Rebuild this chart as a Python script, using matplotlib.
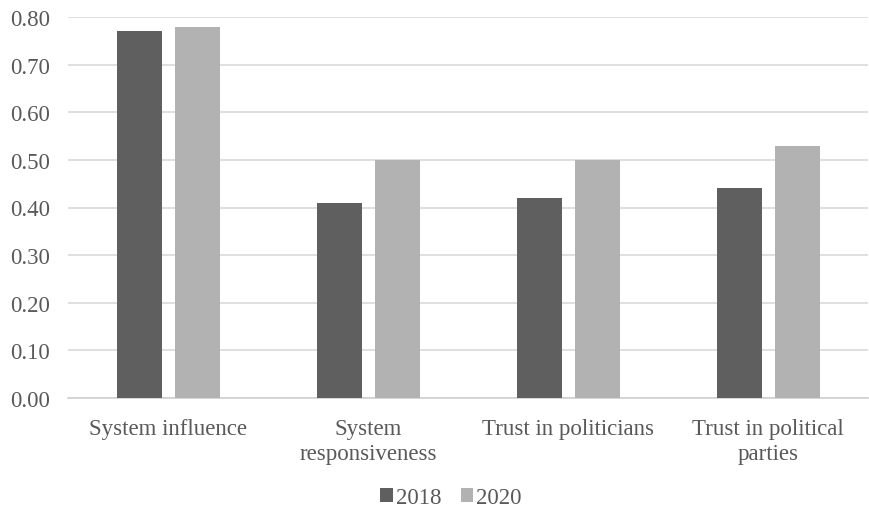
import numpy as np
import matplotlib
matplotlib.use("Agg")
import matplotlib.pyplot as plt

# Political efficacy / trust scores by survey year
categories = ["System influence", "System\nresponsiveness", "Trust in politicians", "Trust in political\nparties"]
years = ["2018", "2020"]
values_2018 = [0.77, 0.41, 0.42, 0.44]
values_2020 = [0.78, 0.50, 0.50, 0.53]
yticks = [0.0, 0.1, 0.2, 0.3, 0.4, 0.5, 0.6, 0.7, 0.8]

plt.rcParams['font.family'] = ['Liberation Serif', 'DejaVu Serif']
text_color = "#595959"
fs = 16.5

fig = plt.figure(figsize=(8.69, 5.10), dpi=100)
ax = fig.add_axes([68 / 869, 1 - 399 / 510, 800 / 869, 381 / 510])

x = np.arange(len(categories))
width = 0.225
ax.bar(x - 0.145, values_2018, width, color="#5f5f5f", label=years[0], zorder=3)
ax.bar(x + 0.145, values_2020, width, color="#b2b2b2", label=years[1], zorder=3)

ax.set_xlim(-0.5, len(categories) - 0.5)
ax.set_ylim(0, 0.8)
ax.set_yticks(yticks)
ax.set_yticklabels([f"{v:.2f}" for v in yticks])
ax.set_xticks(x)
ax.set_xticklabels(categories, linespacing=1.22)

ax.yaxis.grid(True, color="#d9d9d9", linewidth=1.2, zorder=0)
for s in ["top", "right", "left"]:
    ax.spines[s].set_visible(False)
ax.spines["bottom"].set_color("#d0d0d0")
ax.spines["bottom"].set_linewidth(1.2)
ax.tick_params(axis="both", length=0, labelsize=fs, labelcolor=text_color)
ax.tick_params(axis="y", pad=13)
ax.tick_params(axis="x", pad=14.5)

fig.legend(loc="center", bbox_to_anchor=(451 / 869, 1 - 499 / 510), ncol=2,
           frameon=False, fontsize=fs, handlelength=0.55, handleheight=0.55,
           handletextpad=0.12, columnspacing=0.85, labelcolor=text_color,
           borderaxespad=0, borderpad=0)

fig.savefig("out.png", dpi=100)
